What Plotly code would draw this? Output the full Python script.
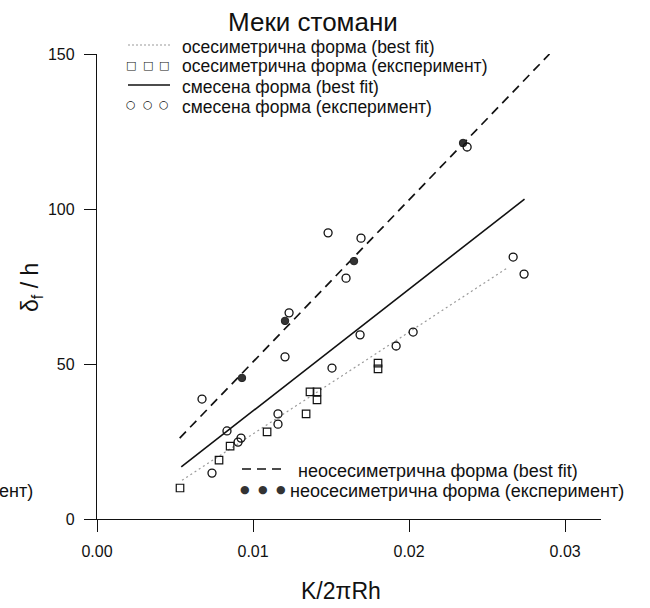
import plotly.graph_objects as go

# ---------------- data ----------------
# осесиметрична форма (експеримент) - open squares
axi_x = [0.00532, 0.00782, 0.00853, 0.0109, 0.0134, 0.01365, 0.0141, 0.0141, 0.01801, 0.01801]
axi_y = [10.0, 19.0, 23.5, 28.1, 33.9, 41.0, 41.0, 38.4, 50.3, 48.4]

# смесена форма (експеримент) - open circles
mixed_x = [0.00673, 0.00737, 0.00833, 0.00904, 0.00923, 0.0116, 0.0116, 0.01205, 0.01231,
           0.01481, 0.01506, 0.01596, 0.01686, 0.01692, 0.01917, 0.02026, 0.02372, 0.02667, 0.02737]
mixed_y = [38.7, 14.8, 28.4, 24.8, 26.1, 33.9, 30.6, 52.3, 66.5,
           92.3, 48.7, 77.7, 59.4, 90.6, 55.8, 60.3, 120.0, 84.5, 79.0]

# неосесиметрична форма (експеримент) - filled circles
nonaxi_x = [0.00929, 0.01205, 0.01647, 0.02346]
nonaxi_y = [45.5, 63.9, 83.2, 121.3]

# best-fit lines (end points)
axi_fit_x = [0.00545, 0.0263]
axi_fit_y = [12.5, 81.0]
mixed_fit_x = [0.0054, 0.0274]
mixed_fit_y = [16.8, 103.2]
nonaxi_fit_x = [0.0053, 0.0290]
nonaxi_fit_y = [26.1, 150.0]

x_tickvals = [0.0, 0.01, 0.02, 0.03]
x_ticktext = ["0.00", "0.01", "0.02", "0.03"]
y_tickvals = [0, 50, 100, 150]
y_ticktext = ["0", "50", "100", "150"]

title_text = "Меки стомани"
x_title = "K/2πRh"
y_title = "δ<sub>f</sub> / h"
legend_texts = [
    "осесиметрична форма (best fit)",
    "осесиметрична форма (експеримент)",
    "смесена форма (best fit)",
    "смесена форма (експеримент)",
    "неосесиметрична форма (best fit)",
    "неосесиметрична форма (експеримент)",
]

# ---------------- layout geometry (pixels) ----------------
W, H = 650, 608
L, R, T, B = 97, 601, 54, 519
FONT = "Liberation Sans, Arial, sans-serif"


def px(xp):
    return (xp - L) / (R - L)


def py(yp):
    return (B - yp) / (B - T)


fig = go.Figure()

fig.add_trace(go.Scatter(x=axi_fit_x, y=axi_fit_y, mode="lines",
                         line=dict(color="#9a9a9a", width=1.2, dash="2px,3px"),
                         showlegend=False, hoverinfo="skip"))
fig.add_trace(go.Scatter(x=mixed_fit_x, y=mixed_fit_y, mode="lines",
                         line=dict(color="#111111", width=1.6),
                         showlegend=False, hoverinfo="skip"))
fig.add_trace(go.Scatter(x=nonaxi_fit_x, y=nonaxi_fit_y, mode="lines",
                         line=dict(color="#111111", width=1.7, dash="9px,6px"),
                         showlegend=False, hoverinfo="skip"))
fig.add_trace(go.Scatter(x=axi_x, y=axi_y, mode="markers",
                         marker=dict(symbol="square-open", size=7.5, color="#111111",
                                     line=dict(width=1.2, color="#111111")),
                         showlegend=False))
fig.add_trace(go.Scatter(x=nonaxi_x, y=nonaxi_y, mode="markers",
                         marker=dict(symbol="circle", size=7.5, color="#333333",
                                     line=dict(width=1, color="#222222")),
                         showlegend=False))
fig.add_trace(go.Scatter(x=mixed_x, y=mixed_y, mode="markers",
                         marker=dict(symbol="circle-open", size=8, color="#111111",
                                     line=dict(width=1.3, color="#111111")),
                         showlegend=False))

annotations = []
shapes = []

# title
annotations.append(dict(text=title_text, x=px(313), y=py(22), xref="paper", yref="paper",
                        showarrow=False, xanchor="center", yanchor="middle",
                        font=dict(family=FONT, size=26, color="#111111")))
# axis titles
annotations.append(dict(text=x_title, x=px(341), y=py(591), xref="paper", yref="paper",
                        showarrow=False, xanchor="center", yanchor="middle",
                        font=dict(family=FONT, size=23, color="#111111")))
annotations.append(dict(text=y_title, x=px(31), y=py(288), xref="paper", yref="paper",
                        showarrow=False, xanchor="center", yanchor="middle", textangle=-90,
                        font=dict(family=FONT, size=23, color="#111111")))

GLYPH_FONT = "DejaVu Sans, sans-serif"


def leg_text(txt, xp, yp, size):
    return dict(text=txt, x=px(xp), y=py(yp), xref="paper", yref="paper",
                showarrow=False, xanchor="left", yanchor="middle",
                font=dict(family=FONT, size=size, color="#111111"))


# upper legend
up_rows = [46.5, 66.5, 86.5, 106.5]
for i, yy in enumerate(up_rows):
    annotations.append(leg_text(legend_texts[i], 180, yy, 17.5))
shapes.append(dict(type="line", xref="paper", yref="paper", x0=px(128), x1=px(170),
                   y0=py(up_rows[0] - 1.5), y1=py(up_rows[0] - 1.5),
                   line=dict(color="#9a9a9a", width=1.2, dash="2px,2px")))
shapes.append(dict(type="line", xref="paper", yref="paper", x0=px(128), x1=px(170),
                   y0=py(up_rows[2] - 1.5), y1=py(up_rows[2] - 1.5),
                   line=dict(color="#111111", width=1.6)))
for gx in [131, 148, 164]:
    annotations.append(dict(text="□", x=px(gx), y=py(up_rows[1] - 1.5), xref="paper", yref="paper",
                            showarrow=False, xanchor="center", yanchor="middle",
                            font=dict(family=GLYPH_FONT, size=11, color="#111111")))
    annotations.append(dict(text="○", x=px(gx), y=py(up_rows[3] - 1.5), xref="paper", yref="paper",
                            showarrow=False, xanchor="center", yanchor="middle",
                            font=dict(family=GLYPH_FONT, size=11, color="#111111")))

# lower legend
low_rows = [470.5, 491.0]
annotations.append(leg_text(legend_texts[4], 296, low_rows[0], 18))
annotations.append(leg_text(legend_texts[5], 288, low_rows[1], 18))
shapes.append(dict(type="line", xref="paper", yref="paper", x0=px(242), x1=px(281),
                   y0=py(low_rows[0] - 1.5), y1=py(low_rows[0] - 1.5),
                   line=dict(color="#111111", width=1.7, dash="9px,6px")))
for gx in [245, 263, 281]:
    annotations.append(dict(text="●", x=px(gx), y=py(low_rows[1] - 1.5), xref="paper", yref="paper",
                            showarrow=False, xanchor="center", yanchor="middle",
                            font=dict(family=GLYPH_FONT, size=11, color="#333333")))

# cut-off text from the neighbouring panel
annotations.append(leg_text("ент)", -3, low_rows[1], 18))

fig.update_layout(
    width=W, height=H,
    margin=dict(l=L, r=W - R, t=T, b=H - B, pad=0),
    paper_bgcolor="white", plot_bgcolor="white",
    showlegend=False,
    annotations=annotations, shapes=shapes,
    font=dict(family=FONT, color="#111111"),
)
fig.update_xaxes(range=[0, 0.0323], tickvals=x_tickvals, ticktext=x_ticktext,
                 ticks="outside", ticklen=12, tickwidth=1.3, tickcolor="#111111",
                 showline=True, linecolor="#111111", linewidth=1.3,
                 showgrid=False, zeroline=False, ticklabelstandoff=6,
                 tickfont=dict(family=FONT, size=16, color="#111111"))
fig.update_yaxes(range=[0, 150], tickvals=y_tickvals, ticktext=y_ticktext,
                 ticks="outside", ticklen=12, tickwidth=1.3, tickcolor="#111111",
                 showline=True, linecolor="#111111", linewidth=1.3,
                 showgrid=False, zeroline=False, ticklabelstandoff=6,
                 tickfont=dict(family=FONT, size=16, color="#111111"))

fig.write_html("out.html")
